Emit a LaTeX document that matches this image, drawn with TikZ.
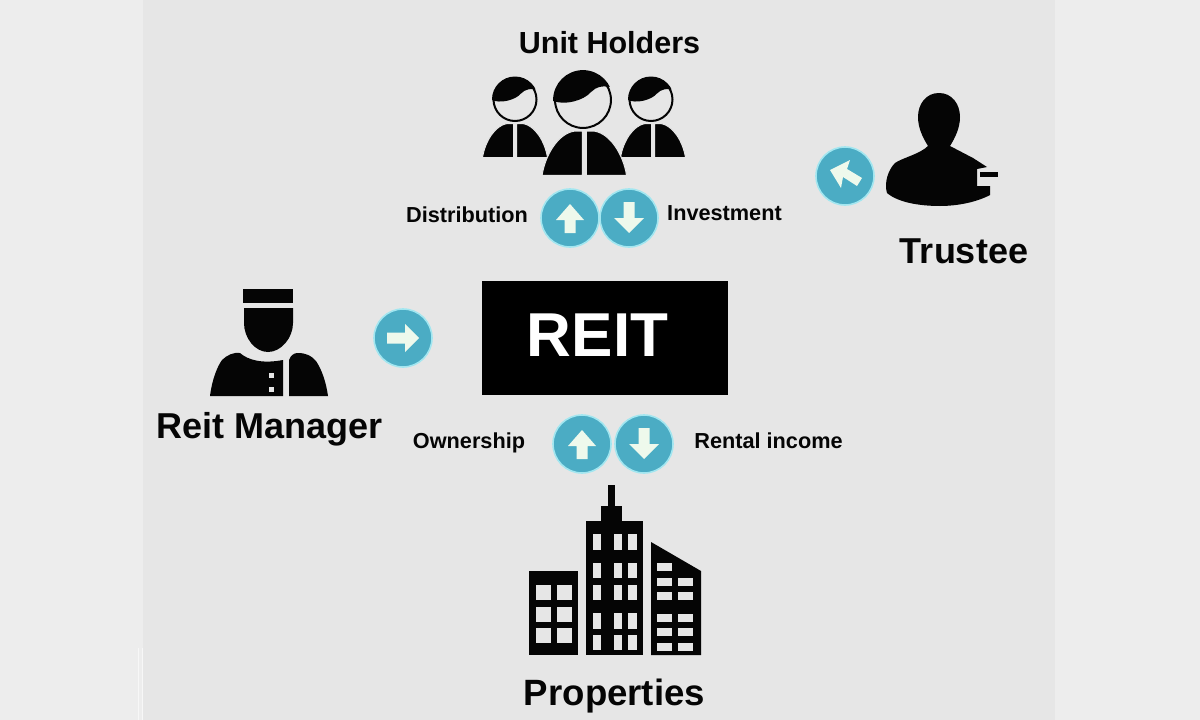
\documentclass[tikz,border=0pt]{standalone}
\usepackage{fontspec}
\setmainfont{Liberation Sans}
\definecolor{pagebg}{HTML}{EDEDED}
\definecolor{paper}{HTML}{E6E6E6}
\definecolor{teal}{HTML}{4BACC4}
\definecolor{glow}{HTML}{A2E6F0}
\definecolor{pale}{HTML}{EEF9EC}
\definecolor{ink}{HTML}{050505}
\tikzset{
  x=1pt,y=-1pt,
  disc/.style={circle,fill=teal,draw=glow,line width=1.6pt,minimum size=58pt,inner sep=0pt},
  arrowglyph/.style={fill=pale},
  lab/.style={font=\fontsize{21.7}{24}\selectfont\bfseries,text=ink,inner sep=0pt,anchor=base},
  biglab/.style={font=\fontsize{36}{40}\selectfont\bfseries,text=ink,inner sep=0pt,anchor=base},
  sil/.style={fill=ink,draw=none},
  win/.style={fill=paper,draw=none}
}
\newcommand{\uparrowglyph}[2]{\fill[arrowglyph,shift={(#1,#2)}] (-5.5,15)--(5.5,15)--(5.5,2)--(14,2)--(0,-14)--(-14,2)--(-5.5,2)--cycle;}
\newcommand{\downarrowglyph}[2]{\fill[arrowglyph,shift={(#1,#2)}] (-5.5,-16)--(5.5,-16)--(5.5,0)--(15,0)--(0,15)--(-15,0)--(-5.5,0)--cycle;}
% person with hair: centre x, head centre y, scale, body centre offset
\newcommand{\holder}[4]{%
 \begin{scope}[shift={(#1,#2)},scale=#3]
  \draw[ink,line width=2pt,fill=paper] (0,0) circle (21.5);
  \begin{scope}
   \clip (0,0) circle (23);
   \fill[ink] (-25,0) -- (-25,-30) -- (25,-30) -- (25,-9)
     .. controls (15,-12) and (10,-10) .. (6,-6)
     .. controls (1,0) and (-14,5) .. (-25,0) -- cycle;
  \end{scope}
  \begin{scope}[xshift=#4]
  \filldraw[fill=ink,draw=paper,line width=1pt] (-1.5,24) -- (-8,24) .. controls (-20,26) and (-30,42) .. (-32.5,58) -- (-1.5,58) -- cycle;
  \filldraw[fill=ink,draw=paper,line width=1pt] (1.5,24) -- (8,24) .. controls (20,26) and (30,42) .. (32.5,58) -- (1.5,58) -- cycle;
  \end{scope}
 \end{scope}}
\begin{document}
\begin{tikzpicture}
\useasboundingbox (0,0) rectangle (1200,720);
\fill[pagebg] (0,0) rectangle (1200,720);
\fill[paper] (143,0) rectangle (1055,720);
\draw[white,opacity=.6,line width=1pt] (138.5,648) -- (138.5,720) (142.5,648) -- (142.5,720);
% Unit holders
\node[lab,font=\fontsize{30.5}{32}\selectfont\bfseries] (uh) at (609.5,53) {Unit Holders};
\holder{515}{99.5}{1}{0}
\holder{651}{99.5}{1}{2}
\holder{583}{100}{1.3}{1}
% Distribution / Investment
\node[disc] (d1) at (570,218) {};
\node[disc] (d2) at (629,218) {};
\uparrowglyph{570}{218}
\downarrowglyph{629}{218}
\node[lab] (dist) at (467,222) {Distribution};
\node[lab] (inv) at (724.5,220) {Investment};
% Trustee
\fill[ink] (939,93) .. controls (952,93) and (960,104) .. (960,117)
  .. controls (960,128) and (955,138) .. (950,146)
  -- (973,158) -- (987,167) -- (977,169) -- (977,186) -- (990,186) -- (990,195)
  .. controls (975,203) and (955,206) .. (940,206)
  .. controls (925,206) and (900,204) .. (887,193)
  .. controls (884,183) and (888,170) .. (895,163)
  .. controls (902,158) and (920,154) .. (928,146)
  .. controls (923,138) and (918,128) .. (918,117)
  .. controls (918,104) and (926,93) .. (939,93) -- cycle;
\fill[ink] (980,172) rectangle (998,177);
\node[disc] (tb) at (845,176) {};
\fill[arrowglyph] (830,170) -- (850,160) -- (847,169) -- (862,178) -- (857,186) -- (843,177) -- (841,188) -- cycle;
\node[biglab] (tr) at (964,263) {Trustee};
% Manager
\fill[ink] (243,289) rectangle (293,303);
\fill[ink] (244,308) -- (293,308) -- (293,323) .. controls (293,338) and (281,352) .. (268,352) .. controls (255,352) and (244,338) .. (244,323) -- cycle;
\fill[ink] (210,396) .. controls (212,380) and (217,367) .. (222,360) .. controls (227,355) and (234,352) .. (240,353) .. controls (248,360) and (262,364) .. (283,360) -- (283,396) -- cycle;
\fill[ink] (289,396) -- (289,360) .. controls (291,355) and (294,353) .. (298,353) .. controls (306,353) and (312,356) .. (316,361) .. controls (322,370) and (326,382) .. (328,396) -- cycle;
\fill[paper] (268.5,372.5) rectangle +(5,5);
\fill[paper] (268.5,386.5) rectangle +(5,5);
\node[disc] (mb) at (403,338) {};
\fill[arrowglyph] (387,332.5) -- (405,332.5) -- (405,324) -- (419,338) -- (405,352) -- (405,343.5) -- (387,343.5) -- cycle;
\node[biglab] (mg) at (269.5,438) {Reit Manager};
% REIT
\node[fill=black,minimum width=246pt,minimum height=114pt,inner sep=0pt] (reit) at (605,338) {};
\node[font=\fontsize{62}{66}\selectfont\bfseries,text=white,inner sep=0pt] (rt) at (597.5,335.5) {REIT};
% Ownership / Rental
\node[disc] (o1) at (582,444) {};
\node[disc] (o2) at (644,444) {};
\uparrowglyph{582}{444}
\downarrowglyph{644}{444}
\node[lab] (own) at (469,448) {Ownership};
\node[lab] (ren) at (768.5,448) {Rental income};
% Buildings
\fill[ink] (529,571) rectangle (578,655);
\foreach \x in {536,557} \foreach \y in {585,607,628} \fill[win] (\x,\y) rectangle +(15,15);
\fill[ink] (586,521) rectangle (643,655);
\fill[ink] (601,506) rectangle (622,522);
\fill[ink] (608,485) rectangle (615,507);
\foreach \y/\h in {534/16,563/15,585/15,613/16,635/15}
  \foreach \x/\w in {593/8,614/8,628/9} \fill[win] (\x,\y) rectangle +(\w,\h);
\fill[ink] (651,542) -- (701,571) -- (701,655) -- (651,655) -- cycle;
\fill[win] (657,563) rectangle +(15,8);
\foreach \y in {578,592,614,628,643} \foreach \x in {657,678} \fill[win] (\x,\y) rectangle +(15,8);
\node[biglab,font=\fontsize{36.6}{40}\selectfont\bfseries] (pr) at (614.5,705) {Properties};
\end{tikzpicture}
\end{document}
